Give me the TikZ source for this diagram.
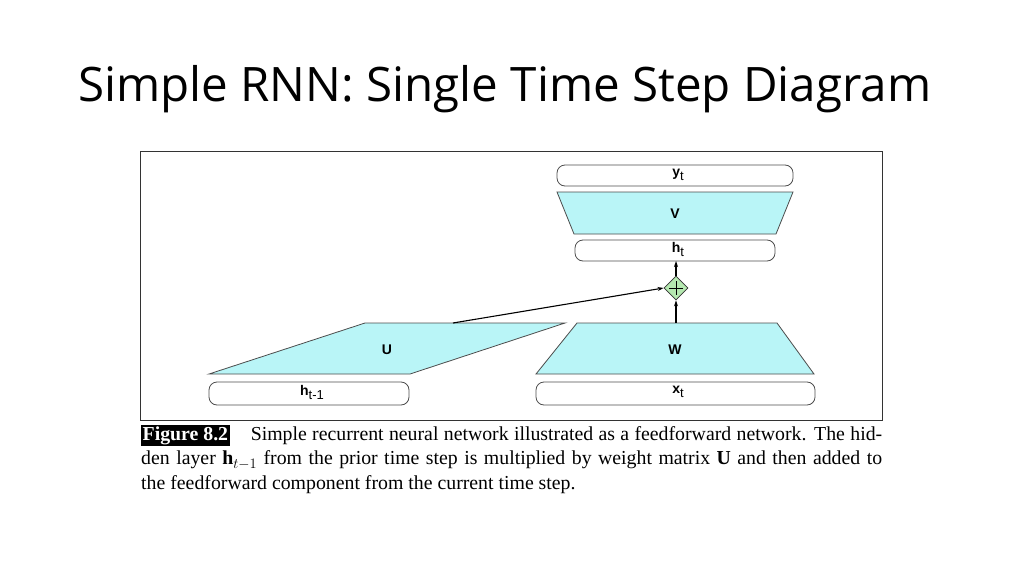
\documentclass[tikz,border=0pt]{standalone}
\usepackage{fontspec}
\setmainfont{Liberation Serif}
\newfontfamily\titlefont{Open Sans}
\newfontfamily\lblfont{Liberation Sans}
\usetikzlibrary{shapes.geometric,arrows.meta}
\definecolor{cyanf}{HTML}{B9F5F7}
\definecolor{greenf}{HTML}{B5E8B0}
\newcommand{\lsub}[1]{\raisebox{-4pt}{\mdseries\fontsize{13}{13}\selectfont #1}}
\begin{document}
\begin{tikzpicture}[x=1pt,y=-1pt,
  box/.style={draw=black!70,line width=0.8pt,rounded corners=8pt},
  trap/.style={draw=black!70,line width=0.8pt,fill=cyanf},
  lbl/.style={font=\lblfont\bfseries\fontsize{14}{14}\selectfont,inner sep=0},
  arr/.style={-{Stealth[length=6pt,width=4pt]},line width=1.1pt}]
\useasboundingbox (0,0) rectangle (1024,575);
\node[anchor=base west,font=\titlefont\fontsize{47.5}{47.5}\selectfont,inner sep=0] (title) at (78,102) {Simple RNN: Single Time Step Diagram};
\draw[line width=0.8pt,black!80] (140,151) rectangle (882,420);
% boxes
\draw[box] (557,165) rectangle (793,186); \node[lbl] (yt) at (678,175) {y\lsub{t}};
\draw[trap] (557,192) -- (793,192) -- (776,234) -- (574,234) -- cycle; \node[lbl] (V) at (675,214) {V};
\draw[box] (575,240) rectangle (775,261); \node[lbl] (ht) at (678,249) {h\lsub{t}};
\draw[trap] (577,323) -- (777,323) -- (814,374) -- (536,374) -- cycle; \node[lbl] (W) at (675,350) {W};
\draw[box] (536,382) rectangle (815,405); \node[lbl] (xt) at (678,392) {x\lsub{t}};
\draw[trap] (365,323) -- (565,323) -- (410,374) -- (209,374) -- cycle; \node[lbl] (U) at (387,350) {U};
\draw[box] (209,382) rectangle (409,405); \node[lbl] (htm) at (312,392) {h\lsub{t-1}};
\node[diamond,draw=black!80,fill=greenf,minimum size=24pt,inner sep=0,line width=0.8pt] (plus) at (676,288) {};
\draw[line width=0.9pt] (plus.center) ++(-7,0) -- ++(14,0) (plus.center) ++(0,-7) -- ++(0,14);
\coordinate (ua) at (453,323);
\coordinate (wa) at (676,323);
\coordinate (hb) at (676,261);
\draw[arr] (ua) -- (plus.west);
\draw[arr] (wa) -- (plus.south);
\draw[arr] (plus.north) -- (hb);
\node[anchor=north west,text width=741pt,align=justify,inner sep=0,font=\fontsize{19.8}{24.5}\selectfont] (cap) at (141,425)
{\setlength{\fboxsep}{1.5pt}\colorbox{black}{\textcolor{white}{\textbf{Figure 8.2}}}\hspace{0.8em} Simple recurrent neural network illustrated as a feedforward network. The hid-\linebreak den layer $\mathbf{h}_{t-1}$ from the prior time step is multiplied by weight matrix \textbf{U} and then added to\linebreak the feedforward component from the current time step.};
\end{tikzpicture}
\end{document}
